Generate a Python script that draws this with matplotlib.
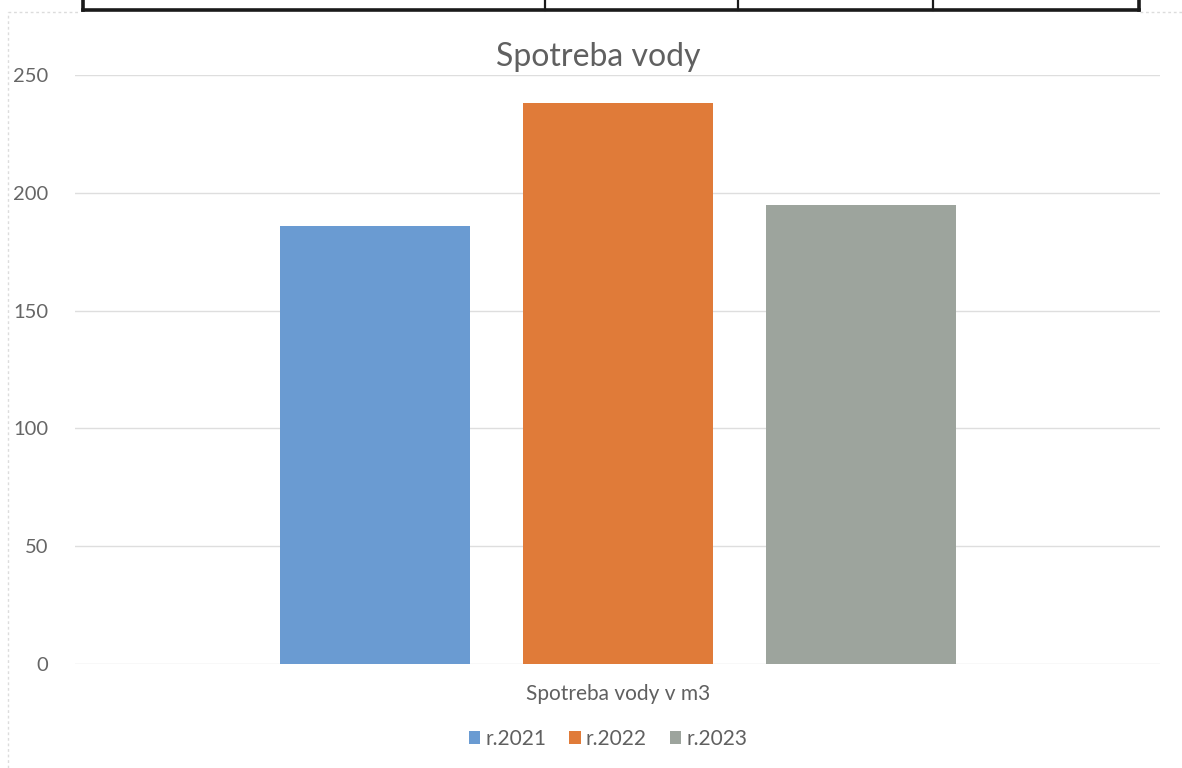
import matplotlib
matplotlib.use("Agg")
import matplotlib.pyplot as plt
from matplotlib.lines import Line2D
from matplotlib.patches import Patch

plt.rcParams['font.family'] = ['Lato', 'DejaVu Sans']

# Data
category = "Spotreba vody v m3"
series_names = ["r.2021", "r.2022", "r.2023"]
values = [186, 238, 195]
colors = ["#6a9bd2", "#e07b39", "#9da49d"]
y_ticks = [0, 50, 100, 150, 200, 250]

W, H = 1182, 768
fig = plt.figure(figsize=(W / 100, H / 100), dpi=100)
fig.patch.set_facecolor("white")

# plot area in pixel coordinates
left_px, right_px = 75, 1160
top_px, bottom_px = 75, 664
ax = fig.add_axes([left_px / W, 1 - bottom_px / H,
                   (right_px - left_px) / W, (bottom_px - top_px) / H])

bar_w = 190 / (right_px - left_px)
step = 243 / (right_px - left_px)
center = 0.5
for i, (name, v, c) in enumerate(zip(series_names, values, colors)):
    ax.bar(center + (i - 1) * step, v, width=bar_w, color=c, label=name, zorder=3)

ax.set_xlim(0, 1)
ax.set_ylim(0, 250)
ax.set_yticks(y_ticks)
ax.set_xticks([])
ax.yaxis.grid(True, color="#dedede", linewidth=1.0, zorder=0)
for s in ax.spines.values():
    s.set_visible(False)
ax.tick_params(axis='y', length=0, pad=19, labelsize=14.5, labelcolor="#666666")

# title, axis title, legend
fig.text(598 / W, 1 - 57 / H, "Spotreba vody", ha="center", va="center",
         fontsize=23, color="#606060")
fig.text(618 / W, 1 - 694 / H, category, ha="center", va="center",
         fontsize=15, color="#606060")
handles = [Patch(facecolor=c, edgecolor='none') for c in colors]
fig.legend(handles, series_names, loc="center", bbox_to_anchor=(608 / W, 1 - 739 / H),
           ncol=3, frameon=False, fontsize=15, handlelength=0.55, handleheight=0.55,
           handletextpad=0.25, columnspacing=1.1, labelcolor="#606060")

# table border above the chart
lw = 2.6
tcol = "#1a1a1a"
fig.add_artist(Line2D([83 / W, 1139 / W], [1 - 10 / H, 1 - 10 / H], color=tcol, lw=lw))
for x in [83, 545, 738, 933, 1139]:
    fig.add_artist(Line2D([x / W, x / W], [1 - 10 / H, 1.0], color=tcol,
                          lw=lw if x in (83, 1139) else 1.6))

# faint chart frame
fcol = "#dcdcdc"
fig.add_artist(Line2D([8 / W, 8 / W], [0, 1 - 12 / H], color=fcol, lw=1, ls=(0, (2, 2))))
fig.add_artist(Line2D([8 / W, 80 / W], [1 - 12 / H, 1 - 12 / H], color=fcol, lw=1, ls=(0, (2, 2))))
fig.add_artist(Line2D([1140 / W, 1182 / W], [1 - 12 / H, 1 - 12 / H], color=fcol, lw=1, ls=(0, (2, 2))))

fig.savefig("out.png", dpi=100)
